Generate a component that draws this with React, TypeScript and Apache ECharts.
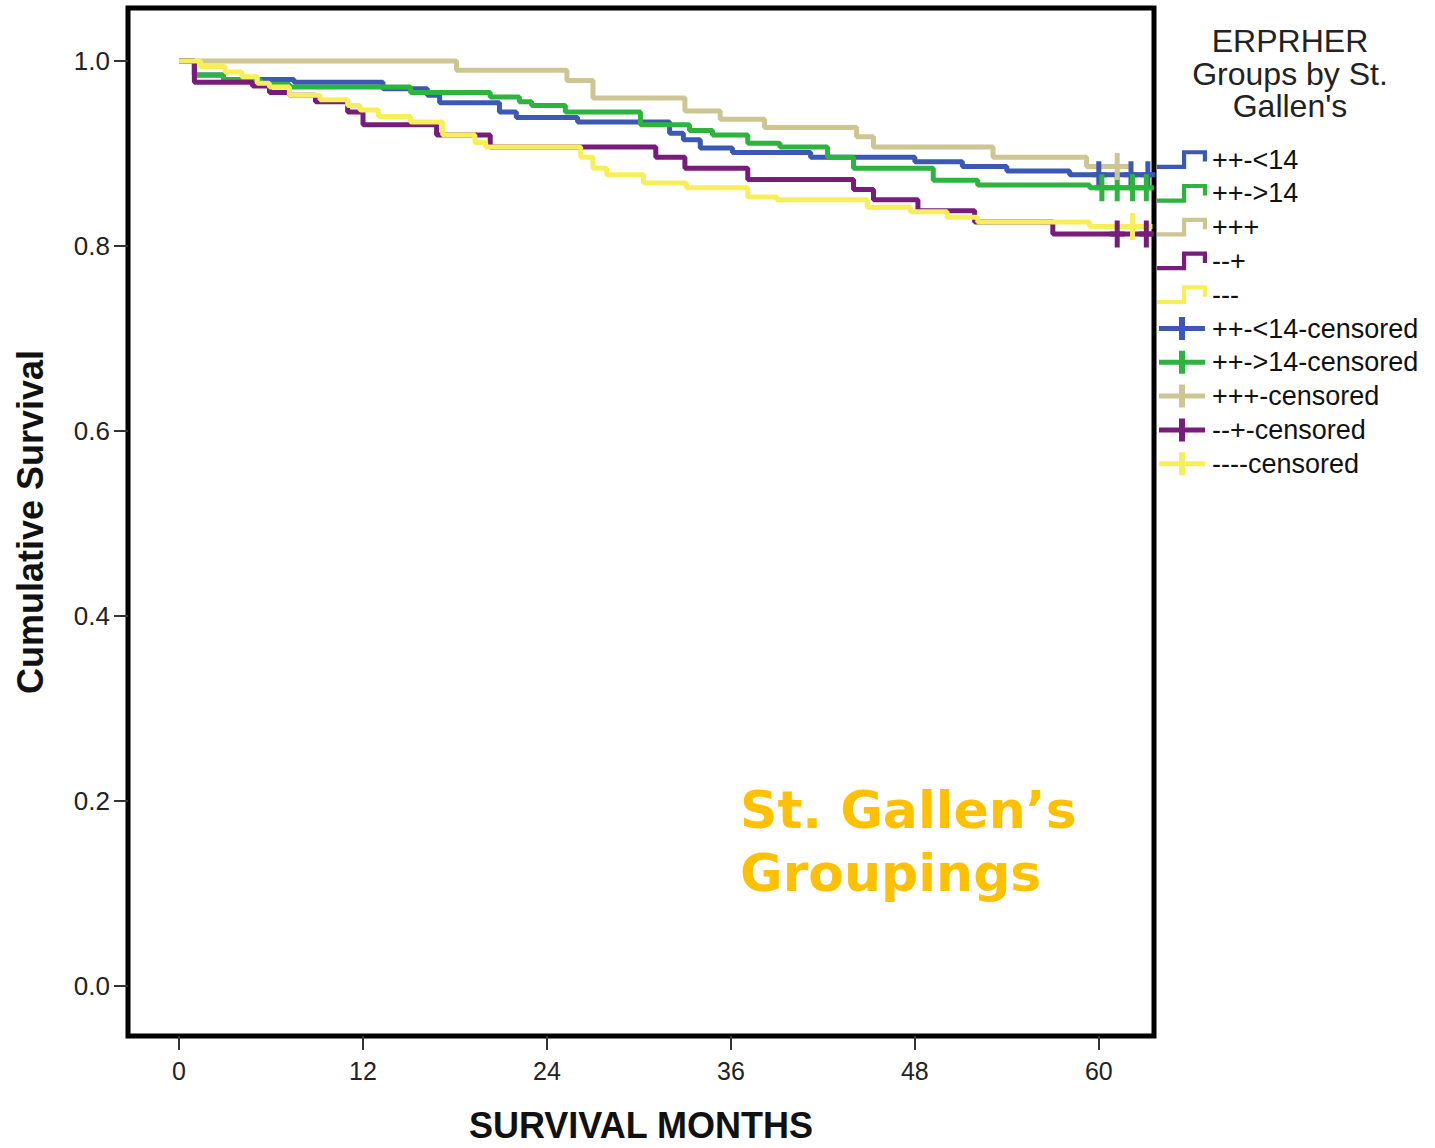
import React, { useEffect, useRef } from "react";
import * as echarts from "echarts";

// ---- data ----
const xTicks = [0, 12, 24, 36, 48, 60];
const yTicks = [0, 0.2, 0.4, 0.6, 0.8, 1.0];
const groups = ["++-<14", "++->14", "+++", "--+", "---"];
const colors = ["#3a58b4", "#2cb43e", "#cdc592", "#771c7a", "#f7ef5a"];

const blueT = [0, 1.0, 2.9, 7.5, 13.3, 16.2, 17.0, 20.9, 22.0, 26.0, 32.0, 32.9, 34.0, 36.1, 41.2, 48.0, 51.1, 54.0, 58.1, 63.5];
const blueS = [1.0, 0.985, 0.980, 0.977, 0.970, 0.963, 0.955, 0.945, 0.939, 0.934, 0.922, 0.915, 0.906, 0.901, 0.896, 0.891, 0.886, 0.881, 0.877, 0.877];
const blueCens = [60.0, 62.1, 63.2];

const greenT = [0, 1.0, 2.9, 5.3, 7.2, 15.1, 20.3, 22.2, 23.0, 25.2, 30.1, 33.3, 34.8, 37.1, 39.2, 42.3, 44.0, 49.2, 52.1, 59.4, 63.5];
const greenS = [1.0, 0.985, 0.980, 0.975, 0.972, 0.966, 0.961, 0.956, 0.952, 0.945, 0.931, 0.925, 0.920, 0.911, 0.907, 0.896, 0.884, 0.871, 0.866, 0.863, 0.863];
const greenCens = [60.2, 61.2, 62.2, 63.1];

const tanT = [0, 18.1, 25.3, 27.0, 33.0, 35.3, 38.2, 44.2, 45.3, 53.1, 59.2, 62.0];
const tanS = [1.0, 0.990, 0.979, 0.960, 0.946, 0.937, 0.928, 0.918, 0.907, 0.896, 0.886, 0.886];
const tanCens = [61.2];

const purpleT = [0, 1.0, 4.8, 5.9, 7.2, 8.9, 11.0, 12.0, 16.8, 20.3, 31.1, 33.0, 37.1, 44.0, 45.3, 48.2, 51.9, 57.0, 63.5];
const purpleS = [1.0, 0.977, 0.973, 0.966, 0.963, 0.956, 0.945, 0.931, 0.920, 0.907, 0.896, 0.884, 0.872, 0.861, 0.850, 0.838, 0.826, 0.813, 0.813];
const purpleCens = [61.2, 63.1];

const yellowT = [0, 1.4, 3.0, 4.1, 5.1, 5.9, 7.2, 9.2, 11.0, 11.8, 13.0, 15.1, 17.2, 19.3, 20.0, 26.2, 27.0, 27.9, 30.3, 33.1, 37.1, 39.0, 44.9, 47.7, 50.1, 52.1, 59.4, 63.5];
const yellowS = [1.0, 0.994, 0.988, 0.983, 0.976, 0.972, 0.963, 0.958, 0.952, 0.947, 0.940, 0.934, 0.920, 0.912, 0.907, 0.896, 0.884, 0.877, 0.868, 0.863, 0.853, 0.850, 0.842, 0.837, 0.831, 0.826, 0.821, 0.821];
const yellowCens = [62.2];

const allT = [blueT, greenT, tanT, purpleT, yellowT];
const allS = [blueS, greenS, tanS, purpleS, yellowS];
const allCens = [blueCens, greenCens, tanCens, purpleCens, yellowCens];

const legendTitle = "ERPRHER\nGroups by St.\nGallen's";
const noteText = "St. Gallen\u2019s\nGroupings";

// ---- shapes ----
const STEP_ICON = "path://M0,14 H24 V0 H48 V11 H44 V4 H28 V18 H0 Z";
const PLUS_ICON = "path://M0,9 H20 V0 H26 V9 H46 V14 H26 V23 H20 V14 H0 Z";
const CENSOR_SYMBOL = "path://M5,0 H10 V11 H15 V16 H10 V27 H5 V16 H0 V11 H5 Z";

function valueAt(T: number[], S: number[], t: number) {
  let v = S[0];
  for (let i = 0; i < T.length; i++) if (T[i] <= t) v = S[i];
  return v;
}

export default function App() {
  const ref = useRef<HTMLDivElement>(null);
  useEffect(() => {
    if (!ref.current) return;
    const chart = echarts.init(ref.current, undefined, { renderer: "svg" });
    const font = '"Liberation Sans", Arial, sans-serif';

    const lineSeries = groups.map((g, i) => ({
      type: "line",
      name: g,
      step: "end",
      showSymbol: false,
      symbol: "none",
      data: allT[i].map((t, k) => [t, allS[i][k]]),
      lineStyle: { color: colors[i], width: 5 },
      itemStyle: { color: colors[i] },
      z: 2 + i,
    }));
    const censSeries = groups.map((g, i) => ({
      type: "scatter",
      name: g + "-censored",
      symbol: CENSOR_SYMBOL,
      symbolSize: [15, 27],
      data: allCens[i].map((t) => [t, valueAt(allT[i], allS[i], t)]),
      itemStyle: { color: colors[i], opacity: 1 },
      z: 10 + i,
    }));

    const option: any = {
      animation: false,
      backgroundColor: "#ffffff",
      textStyle: { fontFamily: font },
      grid: {
        left: 128,
        top: 8,
        width: 1026,
        height: 1028,
        show: true,
        borderColor: "#000",
        borderWidth: 5,
        backgroundColor: "transparent",
        containLabel: false,
        outerBoundsMode: "none",
      },
      xAxis: {
        type: "value",
        min: -3.33,
        max: 63.6,
        name: "SURVIVAL MONTHS",
        nameLocation: "middle",
        nameGap: 71,
        nameTextStyle: { fontSize: 36, fontWeight: "bold", color: "#111", fontFamily: font },
        axisLine: { show: false, onZero: false },
        axisTick: { show: true, length: 14, lineStyle: { color: "#333", width: 2 }, customValues: xTicks },
        axisLabel: { customValues: xTicks, fontSize: 25, color: "#222", margin: 22, fontFamily: font },
        splitLine: { show: false },
      },
      yAxis: {
        type: "value",
        min: -0.054,
        max: 1.0573,
        name: "Cumulative Survival",
        nameLocation: "middle",
        nameRotate: 90,
        nameGap: 80,
        nameTextStyle: { fontSize: 36, fontWeight: "bold", color: "#111", fontFamily: font },
        axisLine: { show: false, onZero: false },
        axisTick: { show: true, length: 14, lineStyle: { color: "#333", width: 2 }, customValues: yTicks },
        axisLabel: {
          customValues: yTicks,
          fontSize: 26,
          color: "#222",
          margin: 18,
          fontFamily: font,
          formatter: (v: number) => v.toFixed(1),
        },
        splitLine: { show: false },
      },
      legend: {
        orient: "vertical",
        left: 1157,
        top: 146,
        padding: 0,
        itemWidth: 50,
        itemHeight: 23,
        itemGap: 6.8,
        selectedMode: false,
        textStyle: { fontSize: 27, color: "#111", lineHeight: 23, fontFamily: font },
        data: [
          ...groups.map((g) => ({ name: g, icon: STEP_ICON })),
          ...groups.map((g) => ({ name: g + "-censored", icon: PLUS_ICON })),
        ],
      },
      graphic: [
        {
          type: "text",
          x: 1290,
          y: 25,
          style: {
            text: legendTitle,
            fontSize: 32,
            lineHeight: 32.5,
            fontFamily: font,
            fill: "#222",
            align: "center",
            verticalAlign: "top",
          },
        },
        {
          type: "text",
          x: 740,
          y: 778,
          style: {
            text: noteText,
            fontSize: 52,
            lineHeight: 63,
            fontWeight: "bold",
            fontFamily: '"DejaVu Sans", Verdana, sans-serif',
            fill: "#FFC000",
            align: "left",
            verticalAlign: "top",
          },
        },
      ],
      series: [...lineSeries, ...censSeries],
    };
    chart.setOption(option);
    return () => chart.dispose();
  }, []);
  return (
    <div
      ref={ref}
      style={{ position: "fixed", left: 0, top: 0, width: 1435, height: 1148, background: "#fff" }}
    />
  );
}
